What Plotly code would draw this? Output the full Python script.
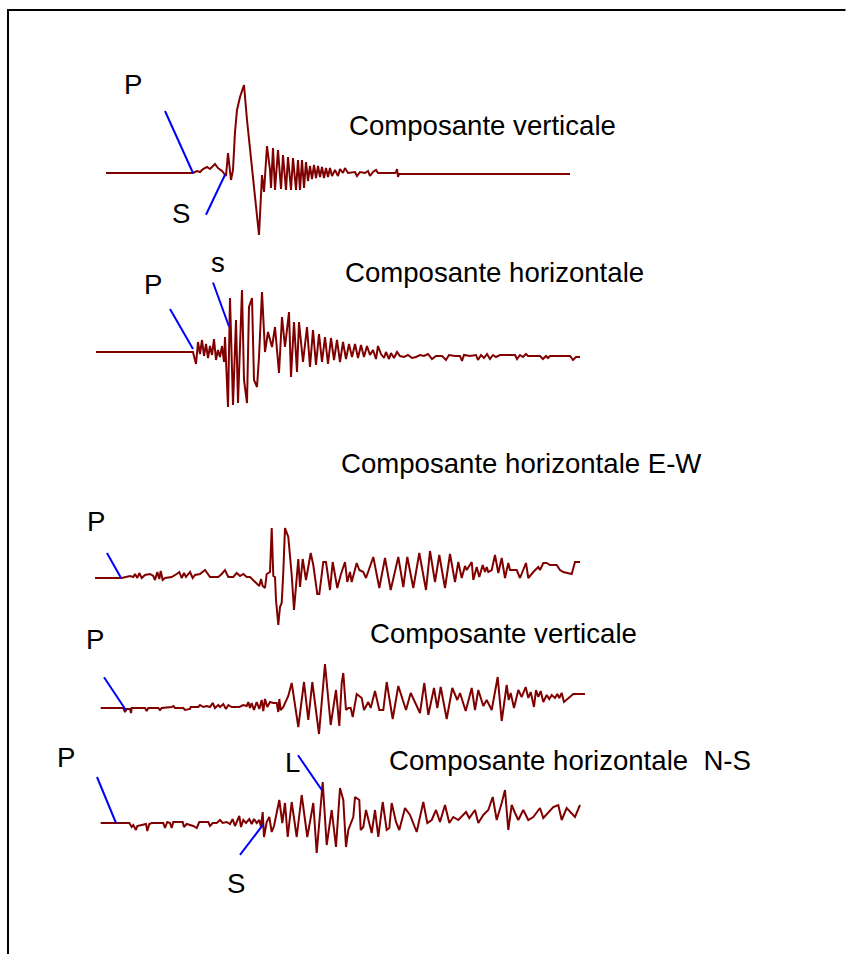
import numpy as np
import plotly.graph_objects as go

# ---------------- data (time in px-like units, amplitude positive up) -------------
t1 = [106, 193, 197, 200, 203, 207, 210, 215, 218, 222, 226, 228, 231, 233, 235, 237, 240, 244, 247, 252,
      259, 262, 264, 267, 270, 271, 273, 275, 278, 281, 283, 286, 288, 291, 293, 296, 298, 300, 302, 304,
      306, 308, 310, 312, 314, 316, 318, 320, 322, 324, 326, 328, 330, 332, 335, 338, 340, 343, 345, 348,
      355, 357, 360, 365, 368, 370, 373, 376, 378, 395, 396, 397, 398, 399, 570]
a1 = [0, 0, 2, 1, 4, 6, 4, 9, 5, 2, -3, 20, -7, 3, 41, 63, 76, 88, 53, 3,
      -62, -2, -19, 27, 3, -15, 25, -17, 23, -16, 18, -17, 16, -17, 15, -17, 13, -17, 13, -15,
      11, -8, 7, -6, 8, -5, 7, -4, 6, -5, 5, -4, 5, -3, 3, -3, 4, 0, 5, 0,
      1, -3, 1, 0, 2, -3, 1, 3, 0, 0, 1, 4, -4, -1, -1]

t2 = [96, 193, 196, 198, 200, 202, 204, 206, 208, 210, 212, 214, 216, 218, 220, 222, 224, 225, 228, 230,
      233, 236, 238, 242, 244, 247, 249, 252, 254, 257, 259, 262, 265, 268, 272, 275, 279, 282, 285, 289,
      291, 294, 297, 299, 303, 307, 310, 313, 316, 319, 322, 325, 328, 331, 334, 337, 340, 343, 346, 349,
      352, 355, 358, 361, 364, 367, 370, 373, 376, 378, 381, 384, 386, 389, 391, 394, 397, 400, 404, 408,
      412, 416, 420, 424, 428, 432, 436, 442, 446, 449, 455, 460, 462, 464, 470, 476, 478, 481, 484, 487,
      490, 493, 496, 500, 510, 515, 517, 520, 523, 526, 528, 540, 543, 546, 548, 550, 570, 573, 576, 580]
a2 = [0, 0, -12, 10, -2, 12, -4, 8, -6, 6, -3, 13, -8, 2, -5, 6, -10, 15, -55, 54,
      -53, 32, -51, 62, -28, -51, 45, 54, -28, -35, -5, 60, 0, 20, 5, 25, -21, 35, 5, 40,
      -25, 30, -20, 30, -10, 25, -15, 22, -13, 18, -10, 15, -12, 14, -8, 12, -10, 10, -7, 8,
      -5, 8, -6, 7, -5, 6, -3, 2, -7, 6, -2, -6, 0, -7, -1, -6, 0, -4, -5, -3,
      -6, -5, -3, -4, -2, -7, -4, -4, -8, -3, -4, -4, -9, -3, -4, -3, -8, -3, -6, -2,
      -7, -3, -5, -3, -3, -3, -7, -3, -5, -2, -4, -4, -7, -4, -6, -4, -4, -8, -5, -5]

t3 = [95, 121.7, 130, 133.3, 135, 137.3, 139.3, 141.7, 145, 150, 153.3, 155, 157.3, 159.3, 160.7, 162.7,
      165, 171.7, 176.7, 179.3, 181.7, 184, 186, 190, 192.7, 195, 200, 205, 210, 218.3, 221.7, 225,
      228.3, 233.3, 236.7, 240, 243.3, 246.7, 250, 256.7, 259.3, 261, 262.7, 265, 266.7, 270, 271.7,
      273.3, 275, 276, 278.3, 280, 281.7, 283.3, 285, 288.3, 291.7, 294, 296.7, 298.3, 300, 302.7, 306,
      310.7, 313.3, 317.3, 319.3, 323.3, 326, 330, 332.7, 337.3, 340.7, 345, 347.3, 350, 351.7, 356.7,
      359.3, 363.3, 366, 373.3, 379.3, 385, 390.7, 398.3, 403.3, 407.3, 413.3, 419.3, 426, 430, 435,
      439.3, 445, 450, 455, 458.3, 461.7, 465, 466.7, 471.7, 473.3, 476.7, 479.3, 482.7, 485, 486.7,
      488.3, 491.7, 495, 498.3, 501.7, 505, 508.3, 510, 516.7, 520, 526, 528.3, 533.3, 538.3, 540,
      543.3, 546.7, 550, 556.7, 560, 563.3, 566.7, 571.7, 575, 580]
a3 = [0, 0, 2, 1, 4, 0, 5, 0, 3, 4, 2, -2, 6, -1, 7, -2,
      0, 1, 4, 6, 0, 5, 1, 6, 0, 3, 4, 8, 1, 1, 4, 8,
      1, 1, 5, 2, 4, 1, 1, -5, -8, -1, -8, -10, 4, 6, 50,
      2, 1, -22, -47, -29, -25, 6, 50, 41, 3, -32, 1, 19, -9, 19, -2,
      25, 13, -16, -16, 16, 16, -12, 16, -10, 3, 16, -4, 6, -4, 15,
      8, 6, 0, 21, -10, 20, -12, 21, -9, 21, -10, 25, -12, 27, -4,
      23, -10, 24, -4, 16, 0, 12, 8, 16, -2, 11, 1, 13, 6, 11,
      6, 8, 23, 5, 20, 0, 15, 8, 8, 0, 15, 0, 6, 11, 8,
      15, 15, 13, 13, 8, 6, 5, 4, 16, 16]

t4 = [100.7, 123.3, 125, 126.7, 130, 131, 131.7, 145, 146.7, 148.3, 158.3, 160, 161.7, 171.7, 173.3, 175,
      183.3, 185, 190, 190.7, 198.3, 200, 203.3, 206.7, 210, 212.7, 215, 218.3, 220, 223.3, 226, 228.3,
      231.7, 236.7, 239.3, 243.3, 246.7, 248.3, 250, 251.7, 254, 256.7, 259.3, 261.7, 263.3, 265, 267.3,
      270, 273.3, 276.7, 278.3, 279.3, 280.7, 283.3, 288.3, 291.7, 298.3, 304, 308.3, 312.3, 319, 325,
      330.7, 336, 339.3, 341.7, 343.3, 346, 348.3, 350.7, 352.7, 356.7, 361.7, 364, 368.3, 370.7, 375,
      379.3, 383.3, 386.7, 392.7, 398.3, 406, 410.7, 420, 424.3, 428.3, 434, 437.3, 440.7, 446.7, 452.3,
      457.3, 460, 465.7, 471.7, 475, 478.3, 483.3, 486.7, 491.7, 497.7, 501.7, 506.7, 508.7, 510.7, 514,
      518.3, 521.7, 525.7, 528.3, 530.7, 534, 536, 538.3, 540.7, 543.3, 546.7, 549.3, 551.7, 555, 557.3,
      559.3, 561.7, 564, 573.3, 585]
a4 = [0, 0, -4, -1, -1, -5, 0, 0, -3, 0, 0, -2, 0, 1, 2, 0,
      0, -2, -1, 1, 1, 3, 1, 2, 1, 5, 0, 3, 1, 4, -1, 3,
      1, 1, 1, 3, 2, 6, 0, 5, -2, 6, -1, 8, -3, 9, 1,
      6, 5, 5, -4, 9, -2, 1, 12, 25, -19, 26, -12, 26, -26, 44,
      -17, 18, -18, 25, 35, -2, 0, 0, -9, 14, 10, -2, 6, 0, 17,
      -2, -2, 26, -11, 22, -2, 15, -5, 25, -7, 20, 0, 21, -11, 20,
      8, 15, -3, 20, -2, 18, 2, 8, -2, 31, -13, 23, 8, 15, 0,
      18, 11, 21, 10, 16, 1, 18, 11, 17, 6, 13, 9, 13, 10, 14,
      10, 15, 6, 14, 14]

t5 = [100.7, 129.3, 131.7, 133.3, 136, 137.3, 141.7, 146, 147.3, 149.3, 151.7, 163.3, 165, 167.3, 170, 171.7,
      173.3, 182.7, 184, 186.7, 193.3, 196.7, 199.3, 208.3, 210, 212.7, 216.7, 220, 222.7, 226.7, 230, 232.7,
      235, 237.3, 239.3, 241, 243.3, 246, 249.3, 251.7, 254, 256.7, 259.3, 261, 262.7, 264, 266.7, 269.3,
      271.7, 274, 279.3, 282.3, 285, 287.7, 291.7, 296.7, 301.7, 307.3, 313.3, 316.7, 322.7, 326.7, 331.7,
      336, 340, 343.3, 346, 348.3, 353.3, 355, 359.3, 360.7, 363.3, 366, 368.3, 371.7, 375, 378.3, 382.7,
      386.7, 389.3, 391.7, 396, 399.3, 405, 410, 416.7, 423.3, 427.3, 431.7, 436, 440, 445, 449.3, 453.3,
      458.3, 466, 469.3, 475, 478.3, 483.3, 488.3, 492.7, 496.7, 501.7, 505, 508.3, 511.7, 515, 518.3,
      523.3, 528.3, 533.3, 540, 543.3, 548.3, 553.3, 558.3, 561.7, 566.7, 575, 580]
a5 = [0, 0, -4, -2, -7, -3, -2, -1, -8, -1, 0, 0, -5, 1, 0, -5,
      1, 1, -4, -1, -3, -5, 1, 1, -3, 0, 0, 3, 0, 1, -1, 4,
      -3, 2, 7, -4, 3, 0, 4, -1, 4, 0, 3, -4, 11, -14, 1, 6,
      -9, -3, 23, 0, 20, -14, 21, -14, 28, -14, 20, -30, 41, -22, 13,
      -24, 35, 23, -24, -7, 6, 26, 23, -7, -4, 13, 3, -10, 13, -14, 21,
      -7, -5, 20, 1, -7, 15, 8, -9, 21, 0, 3, 13, 1, 18, 0, 6,
      3, 11, 5, 13, 0, 8, 13, 26, 3, 20, 33, -7, 18, 10, 3,
      13, 3, 6, 15, 5, 11, 16, 18, 3, 15, 6, 18]

traces = [(t1, a1), (t2, a2), (t3, a3), (t4, a4), (t5, a5)]
titles = ["Composante verticale", "Composante horizontale", "Composante horizontale E-W",
          "Composante verticale", "Composante horizontale  N-S"]
# phase picks: (trace index, label, arrival time)
picks = [(0, "P", 193), (0, "S", 225), (1, "P", 193), (1, "s", 229), (2, "P", 121),
         (3, "P", 126), (4, "P", 116), (4, "S", 263), (4, "L", 322)]

# ---------------- layout / style -------------
W, H = 846, 954
baselines = [173, 352, 578, 708, 823]
title_pos = [(482, 125), (494, 272), (521, 463), (503, 633), (570, 760)]
# pick marker style: (anchor dy, line dx, line dy, label dx, label dy) relative to the arrival point
pick_style = [(0, -28, -62, -60, -89), (0, -19, 40, -44, 39), (-3, -23, -40, -40, -65),
              (-26, -16, -44, -11, -64), (0, -14, -25, -25, -57), (0, -22, -33, -31, -71),
              (0, -19, -46, -50, -66), (7, -23, 30, -27, 59), (0, -24, -35, -30, -28)]
TRACE_COL = "#800000"
PICK_COL = "#0000ff"
FONT = "Liberation Sans, Arial, sans-serif"
FS = 27.6

fig = go.Figure()
for (t, a), b in zip(traces, baselines):
    fig.add_trace(go.Scatter(x=t, y=[b - v for v in a], mode="lines",
                             line=dict(color=TRACE_COL, width=2), hoverinfo="skip", showlegend=False))

annotations = []
for (x, y), txt in zip(title_pos, titles):
    annotations.append(dict(x=x, y=y, xref="x", yref="y", text=txt, showarrow=False,
                            font=dict(family=FONT, size=FS, color="black"),
                            xanchor="center", yanchor="middle"))

for (k, lab, tp), (ady, ldx, ldy, tdx, tdy) in zip(picks, pick_style):
    t, a = traces[k]
    yp = baselines[k] - float(np.interp(tp, t, a)) + ady
    fig.add_trace(go.Scatter(x=[tp, tp + ldx], y=[yp, yp + ldy], mode="lines",
                             line=dict(color=PICK_COL, width=2), hoverinfo="skip", showlegend=False))
    annotations.append(dict(x=tp + tdx, y=yp + tdy, xref="x", yref="y", text=lab, showarrow=False,
                            font=dict(family=FONT, size=FS, color="black"),
                            xanchor="center", yanchor="middle"))

shapes = [
    dict(type="line", xref="x", yref="y", x0=7, y0=10, x1=W - 0.5, y1=10, line=dict(color="black", width=2)),
    dict(type="line", xref="x", yref="y", x0=8, y0=9, x1=8, y1=H, line=dict(color="black", width=2)),
]

fig.update_layout(
    width=W, height=H, margin=dict(l=0, r=0, t=0, b=0),
    paper_bgcolor="white", plot_bgcolor="white",
    xaxis=dict(range=[0, W], visible=False, fixedrange=True),
    yaxis=dict(range=[H, 0], visible=False, fixedrange=True),
    annotations=annotations, shapes=shapes, showlegend=False,
)

fig.write_html("out.html", post_script="document.body.style.margin='0px';",
               config={"displayModeBar": False})
